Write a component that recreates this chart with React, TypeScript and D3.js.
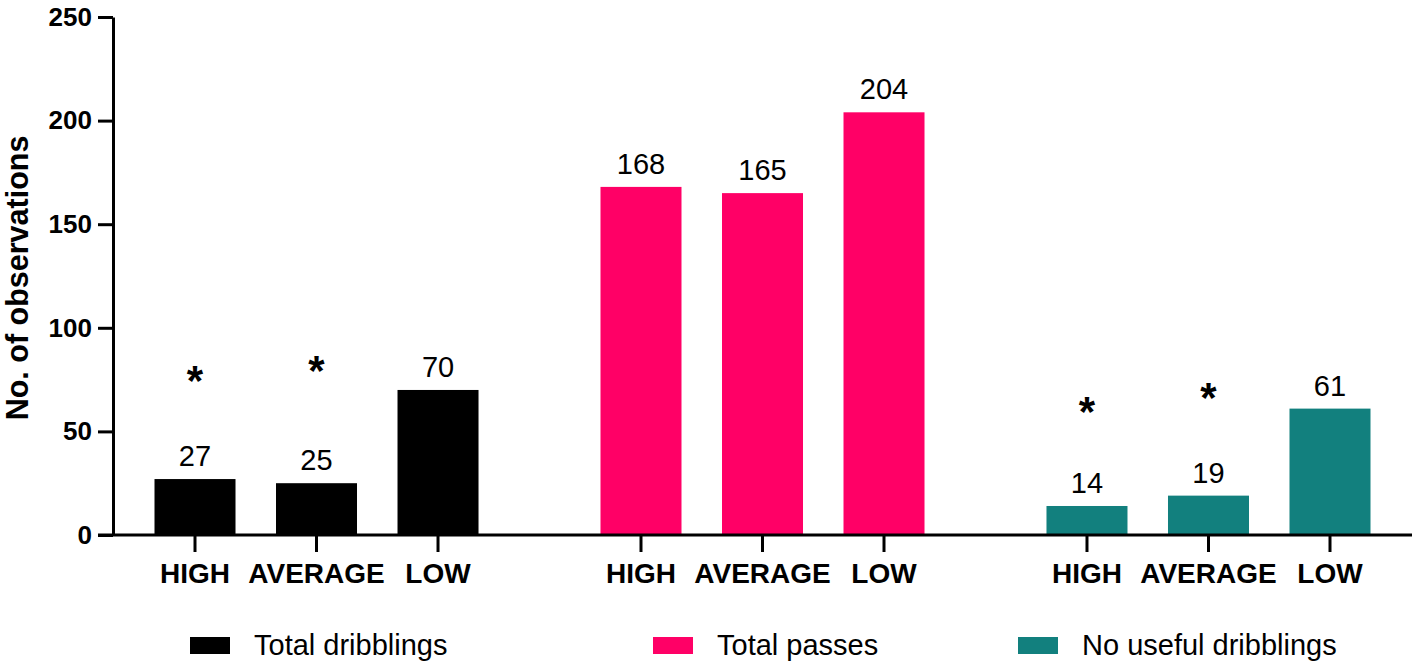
import React, { useEffect, useRef } from "react";
import { axisBottom, axisLeft, scaleBand, scaleLinear, select } from "d3";

// Data
const levels = ["HIGH", "AVERAGE", "LOW"];
const seriesNames = ["Total dribblings", "Total passes", "No useful dribblings"];
const seriesColors = ["#000000", "#FF0066", "#12807E"];
const totalDribblings = [27, 25, 70];
const totalPasses = [168, 165, 204];
const noUsefulDribblings = [14, 19, 61];
const yTicks = [0, 50, 100, 150, 200, 250];
// significance asterisks: [series index, level, height in data units]
const asterisks: [number, string, number][] = [
  [0, "HIGH", 77],
  [0, "AVERAGE", 82],
  [2, "HIGH", 62],
  [2, "AVERAGE", 69],
];

const W = 1421;
const H = 667;
const FONT = "'Liberation Sans', Arial, Helvetica, sans-serif";

export default function App() {
  const ref = useRef<SVGSVGElement>(null);

  useEffect(() => {
    const svg = select(ref.current);
    svg.selectAll("*").remove();

    const series = [totalDribblings, totalPasses, noUsefulDribblings];

    const y = scaleLinear().domain([0, 250]).range([535, 17]);
    const groups = scaleBand<number>()
      .domain([0, 1, 2])
      .range([154.5, 1370.5])
      .paddingInner(0.2735)
      .paddingOuter(0);
    const inner = scaleBand<string>()
      .domain(levels)
      .range([0, groups.bandwidth()])
      .paddingInner(1 / 3)
      .paddingOuter(0);

    // bars + value labels
    series.forEach((vals, si) => {
      const g = svg.append("g").attr("transform", `translate(${groups(si)},0)`);
      g.selectAll("rect")
        .data(vals)
        .join("rect")
        .attr("x", (_, i) => inner(levels[i])!)
        .attr("width", inner.bandwidth())
        .attr("y", (d) => y(d))
        .attr("height", (d) => y(0) - y(d))
        .attr("fill", seriesColors[si]);
      g.selectAll("text.val")
        .data(vals)
        .join("text")
        .attr("class", "val")
        .attr("x", (_, i) => inner(levels[i])! + inner.bandwidth() / 2)
        .attr("y", (d) => y(d) - 13)
        .attr("text-anchor", "middle")
        .attr("font-family", FONT)
        .attr("font-size", 29)
        .attr("fill", "#000")
        .text((d) => d);

      // category axis for this group
      const ax = svg
        .append("g")
        .attr("transform", `translate(${groups(si)},${y(0)})`)
        .call(axisBottom(inner).tickSize(17).tickSizeOuter(0).tickPadding(11).offset(0));
      ax.select(".domain").remove();
      ax.selectAll("line").attr("stroke", "#000").attr("stroke-width", 3);
      ax.selectAll("text")
        .attr("font-family", FONT)
        .attr("font-size", 28)
        .attr("font-weight", "bold")
        .attr("fill", "#000");
    });

    // asterisks
    svg
      .selectAll("text.star")
      .data(asterisks)
      .join("text")
      .attr("class", "star")
      .attr("x", (d) => groups(d[0])! + inner(d[1])! + inner.bandwidth() / 2)
      .attr("y", (d) => y(d[2]))
      .attr("dy", "0.47em")
      .attr("text-anchor", "middle")
      .attr("font-family", FONT)
      .attr("font-size", 42)
      .attr("font-weight", "bold")
      .text("*");

    // x axis line
    svg
      .append("line")
      .attr("x1", 98)
      .attr("x2", 1412)
      .attr("y1", y(0))
      .attr("y2", y(0))
      .attr("stroke", "#000")
      .attr("stroke-width", 3);

    // y axis
    const yAx = svg
      .append("g")
      .attr("transform", "translate(113,0)")
      .call(axisLeft(y).tickValues(yTicks).tickSize(15).tickSizeOuter(0).tickPadding(6));
    yAx.select(".domain").attr("stroke", "#000").attr("stroke-width", 3);
    yAx.selectAll("line").attr("stroke", "#000").attr("stroke-width", 3);
    yAx.selectAll("text")
      .attr("font-family", FONT)
      .attr("font-size", 26)
      .attr("font-weight", "bold")
      .attr("fill", "#000");

    svg
      .append("text")
      .attr("transform", `translate(28,278) rotate(-90)`)
      .attr("text-anchor", "middle")
      .attr("font-family", FONT)
      .attr("font-size", 30.5)
      .attr("font-weight", "bold")
      .text("No. of observations");

    // legend
    const legendX = [190, 653, 1018];
    const leg = svg
      .selectAll("g.leg")
      .data(seriesNames)
      .join("g")
      .attr("class", "leg")
      .attr("transform", (_, i) => `translate(${legendX[i]},637)`);
    leg
      .append("rect")
      .attr("width", 40)
      .attr("height", 17)
      .attr("fill", (_, i) => seriesColors[i]);
    leg
      .append("text")
      .attr("x", 64)
      .attr("y", 18)
      .attr("font-family", FONT)
      .attr("font-size", 29)
      .attr("fill", "#000")
      .text((d) => d);
  }, []);

  return (
    <svg
      ref={ref}
      width={W}
      height={H}
      style={{ position: "absolute", left: 0, top: 0, background: "#fff" }}
    />
  );
}
